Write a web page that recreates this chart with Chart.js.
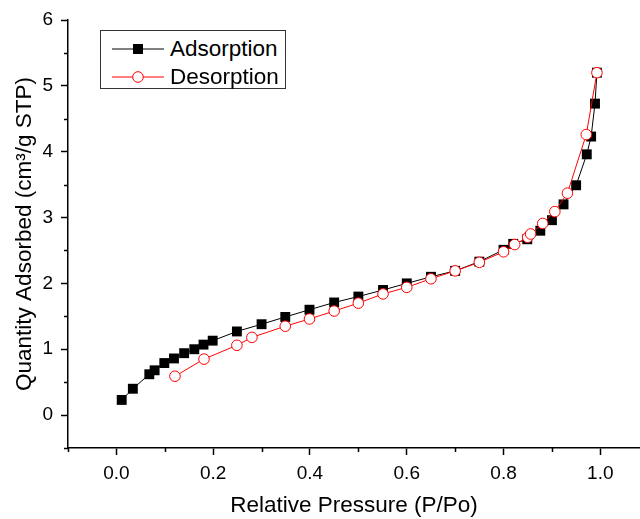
<!DOCTYPE html>
<html>
<head>
<meta charset="utf-8">
<script src="https://cdn.jsdelivr.net/npm/chart.js"></script>
<style>
  body { margin: 0; background: #fff; }
  #wrap { position: relative; width: 640px; height: 519px; }
  #legend {
    position: absolute; left: 100px; top: 30px; width: 184px; height: 57px;
    border: 1px solid #333; background: #fff;
    font-family: 'Liberation Sans', Arial, sans-serif; font-size: 22.5px; color: #000;
  }
  .row { position: absolute; left: 0; height: 26px; width: 184px; }
  .row svg { position: absolute; left: 11px; top: 3px; }
  .row span { position: absolute; left: 69px; top: 0; line-height: 26px; }
</style>
</head>
<body>
<div id="wrap">
  <canvas id="chart" width="640" height="519"></canvas>
  <div id="legend">
    <div class="row" style="top:5px">
      <svg width="52" height="20"><line x1="0" y1="10" x2="52" y2="10" stroke="#000" stroke-width="1"/><rect x="21" y="5" width="10" height="10" fill="#000"/></svg>
      <span>Adsorption</span>
    </div>
    <div class="row" style="top:33px">
      <svg width="52" height="20"><line x1="0" y1="10" x2="52" y2="10" stroke="#f00" stroke-width="1"/><circle cx="26" cy="10" r="5.3" fill="#fff" stroke="#f00" stroke-width="1"/></svg>
      <span>Desorption</span>
    </div>
  </div>
</div>
<script>
// values
const adsX = [0.011, 0.034, 0.068, 0.079, 0.099, 0.119, 0.140, 0.161, 0.180, 0.199,
  0.249, 0.300, 0.349, 0.399, 0.450, 0.500, 0.551, 0.600, 0.650, 0.700,
  0.750, 0.800, 0.820, 0.849, 0.876, 0.900, 0.924, 0.950, 0.972, 0.981, 0.989, 0.993];
const adsY = [0.23, 0.40, 0.62, 0.68, 0.79, 0.86, 0.94, 1.00, 1.07, 1.13,
  1.27, 1.38, 1.49, 1.60, 1.71, 1.80, 1.90, 2.00, 2.10, 2.19,
  2.33, 2.51, 2.60, 2.67, 2.80, 2.96, 3.20, 3.49, 3.96, 4.23, 4.73, 5.20];

const desX = [0.121, 0.181, 0.249, 0.280, 0.349, 0.399, 0.450, 0.500, 0.551, 0.600,
  0.650, 0.700, 0.750, 0.800, 0.823, 0.850, 0.856, 0.881, 0.906, 0.932, 0.971, 0.993];
const desY = [0.59, 0.85, 1.06, 1.18, 1.35, 1.46, 1.58, 1.70, 1.84, 1.94,
  2.07, 2.19, 2.32, 2.48, 2.59, 2.70, 2.75, 2.91, 3.09, 3.37, 4.26, 5.20];

// axis ticks
const xMajorTicks = [0, 0.2, 0.4, 0.6, 0.8, 1.0];
const xMinorTicks = [-0.1, 0.1, 0.3, 0.5, 0.7, 0.9];
const yMajorTicks = [0, 1, 2, 3, 4, 5, 6];
const yMinorTicks = [-0.5, 0.5, 1.5, 2.5, 3.5, 4.5, 5.5];

const FONT = "'Liberation Sans', Arial, sans-serif";

function toPoints(xs, ys) {
  return xs.map((x, i) => ({ x: x, y: ys[i] }));
}

// short outward ticks between the labelled ones
const minorTicks = {
  id: 'minorTicks',
  afterDraw(chart) {
    const { ctx, scales: { x, y } } = chart;
    ctx.save();
    ctx.strokeStyle = '#000';
    ctx.lineWidth = 1.5;
    ctx.beginPath();
    xMinorTicks.forEach(v => {
      const px = Math.round(x.getPixelForValue(v)) + 0.5;
      ctx.moveTo(px, x.top);
      ctx.lineTo(px, x.top + 4);
    });
    yMinorTicks.forEach(v => {
      const py = Math.round(y.getPixelForValue(v)) + 0.5;
      ctx.moveTo(y.right, py);
      ctx.lineTo(y.right - 4, py);
    });
    ctx.stroke();
    ctx.restore();
  }
};

new Chart(document.getElementById('chart'), {
  type: 'scatter',
  data: {
    datasets: [
      {
        label: 'Desorption',
        data: toPoints(desX, desY),
        showLine: true,
        borderColor: '#ff0000',
        borderWidth: 1,
        backgroundColor: '#ffffff',
        pointStyle: 'circle',
        pointRadius: 5.3,
        pointBorderWidth: 1,
        pointBorderColor: '#ff0000',
        pointBackgroundColor: '#ffffff',
        order: 0
      },
      {
        label: 'Adsorption',
        data: toPoints(adsX, adsY),
        showLine: true,
        borderColor: '#000000',
        borderWidth: 1,
        backgroundColor: '#000000',
        pointStyle: 'rect',
        pointRadius: 7,
        pointBorderWidth: 0,
        pointBackgroundColor: '#000000',
        order: 1
      }
    ]
  },
  options: {
    responsive: false,
    animation: false,
    layout: { autoPadding: false, padding: { top: 20, right: 0, left: 0, bottom: 0 } },
    plugins: {
      legend: { display: false },
      tooltip: { enabled: false }
    },
    scales: {
      x: {
        type: 'linear',
        min: -0.1,
        max: 1.082,
        afterBuildTicks: scale => { scale.ticks = xMajorTicks.map(v => ({ value: v })); },
        afterFit: scale => { scale.height = 71; },
        border: { display: true, color: '#000', width: 1.5 },
        grid: { drawOnChartArea: false, drawTicks: true, tickLength: 7, color: '#000', tickWidth: 1.5 },
        ticks: {
          color: '#000', padding: 7, font: { family: FONT, size: 19 },
          callback: v => v.toFixed(1)
        },
        title: {
          display: true, text: 'Relative Pressure (P/Po)', color: '#000',
          font: { family: FONT, size: 22.5 }, padding: { top: 4, bottom: 0 }
        }
      },
      y: {
        type: 'linear',
        min: -0.5,
        max: 6,
        afterBuildTicks: scale => { scale.ticks = yMajorTicks.map(v => ({ value: v })); },
        afterFit: scale => { scale.width = 68; },
        border: { display: true, color: '#000', width: 1.5 },
        grid: { drawOnChartArea: false, drawTicks: true, tickLength: 7, color: '#000', tickWidth: 1.5 },
        ticks: {
          color: '#000', padding: 8, font: { family: FONT, size: 19 },
          callback: v => String(v)
        },
        title: {
          display: true, text: 'Quantity Adsorbed (cm³/g STP)', color: '#000',
          font: { family: FONT, size: 22.5 }, padding: { top: 11.5, bottom: 0 }
        }
      }
    }
  },
  plugins: [minorTicks]
});
</script>
</body>
</html>
